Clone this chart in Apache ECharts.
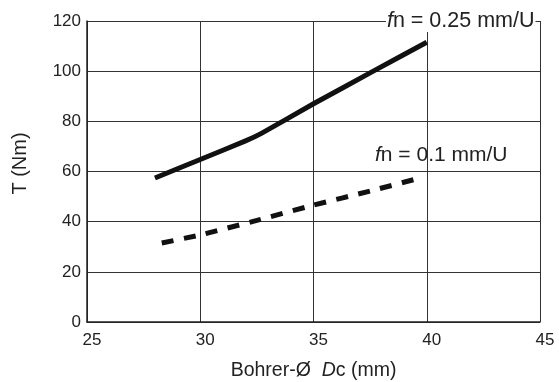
<!DOCTYPE html>
<html>
<head>
    <meta charset="utf-8">
    <title>Drehmoment</title>
    <script src="https://cdn.jsdelivr.net/npm/echarts@6/dist/echarts.min.js"></script>
    <style>
        html, body { margin: 0; padding: 0; background: #fff; }
        #chart { width: 559px; height: 382px; }
    </style>
</head>
<body>
    <div id="chart"></div>
    <script>
        // Bohrer-Durchmesser (mm) und Drehmoment T (Nm)
        var dcHigh = [28, 30, 32, 32.7, 35, 37.6, 40];
        var tHigh = [57.4, 64.8, 72.2, 75.2, 87, 99.8, 111.5];
        var dcLow = [28.3, 30, 32.5, 35, 37.5, 39.7];
        var tLow = [31.5, 34.7, 40.5, 46.6, 52.2, 57.4];
        var labelHigh = ['fn = 0.25 mm/U', 41.5, 120];
        var labelLow = ['fn = 0.1 mm/U', 40.64, 66.5];

        var font = 'Liberation Sans, Arial, sans-serif';

        function pairs(xs, ys) {
            var out = [];
            for (var i = 0; i < xs.length; i++) out.push([xs[i], ys[i]]);
            return out;
        }

        function fnLabel(lab, bg, size) {
            var txt = lab[0].replace(/^f/, '');
            return {
                name: lab[0],
                coord: [lab[1], lab[2]],
                symbol: 'circle',
                symbolSize: 1,
                itemStyle: { color: 'rgba(0,0,0,0)' },
                label: {
                    show: true,
                    position: 'inside',
                    formatter: '{i|f}{n|' + txt + '}',
                    backgroundColor: bg,
                    padding: [0, 1],
                    rich: {
                        i: { fontFamily: font, fontSize: size, fontStyle: 'italic', color: '#222' },
                        n: { fontFamily: font, fontSize: size, color: '#222' }
                    }
                }
            };
        }

        var myChart = echarts.init(document.getElementById('chart'));
        var option = {
            animation: false,
            grid: { left: 87, right: 19, top: 21, bottom: 60, outerBoundsMode: 'none', containLabel: false },
            xAxis: {
                type: 'value',
                min: 25,
                max: 45,
                interval: 5,
                name: '{a|Bohrer-Ø  }{b|D}{a|c (mm)}',
                nameLocation: 'middle',
                nameGap: 39,
                nameTextStyle: {
                    rich: {
                        a: { fontFamily: font, fontSize: 19.5, color: '#222' },
                        b: { fontFamily: font, fontSize: 19.5, fontStyle: 'italic', color: '#222' }
                    }
                },
                axisLine: { lineStyle: { color: '#222', width: 1.5 } },
                axisTick: { show: false },
                axisLabel: { fontFamily: font, fontSize: 17, color: '#222', margin: 10, padding: [0, 0, 0, 10] },
                splitLine: { lineStyle: { color: '#333', width: 1 } }
            },
            yAxis: {
                type: 'value',
                min: 0,
                max: 120,
                interval: 20,
                name: 'T (Nm)',
                nameLocation: 'middle',
                nameGap: 57,
                nameTextStyle: { fontFamily: font, fontSize: 20, color: '#222', padding: [0, 0, 0, 16] },
                axisLine: { show: true, lineStyle: { color: '#222', width: 1.5 } },
                axisTick: { show: false },
                axisLabel: { fontFamily: font, fontSize: 17, color: '#222', margin: 6 },
                splitLine: { lineStyle: { color: '#333', width: 1 } }
            },
            series: [
                {
                    name: 'fn = 0.25 mm/U',
                    type: 'line',
                    smooth: 0.15,
                    symbol: 'none',
                    data: pairs(dcHigh, tHigh),
                    lineStyle: { color: '#111', width: 5, cap: 'butt', join: 'round' },
                    markPoint: { silent: true, data: [fnLabel(labelHigh, '#fff', 21.5)] },
                    z: 3
                },
                {
                    name: 'fn = 0.1 mm/U',
                    type: 'line',
                    smooth: 0.15,
                    symbol: 'none',
                    data: pairs(dcLow, tLow),
                    lineStyle: { color: '#111', width: 5, type: [12, 10.5], cap: 'butt' },
                    markPoint: { silent: true, data: [fnLabel(labelLow, 'rgba(0,0,0,0)', 21)] },
                    z: 3
                }
            ]
        };
        myChart.setOption(option);
    </script>
</body>
</html>
